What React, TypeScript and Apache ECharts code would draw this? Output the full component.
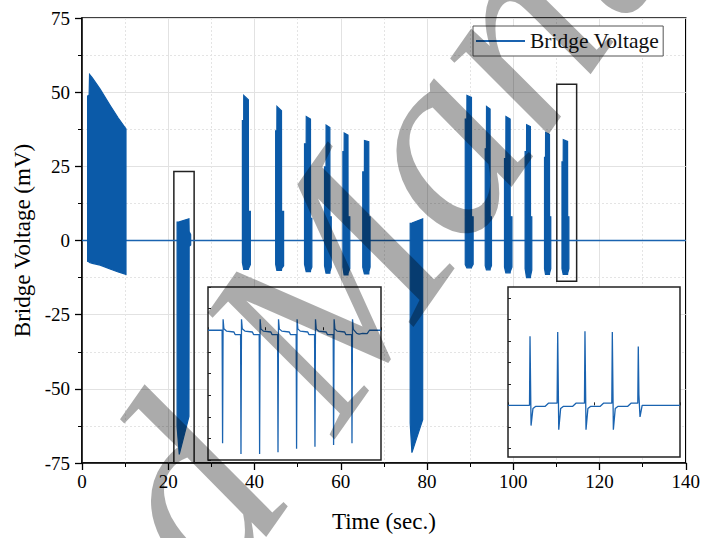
import React, { useEffect, useRef } from "react";
import * as echarts from "echarts";

// ---------- data ----------
const X_TICKS = { min: 0, max: 140, interval: 20 };
const Y_TICKS = { min: -75, max: 75, interval: 25 };
const SERIES_NAME = "Bridge Voltage";
const X_TITLE = "Time (sec.)";
const Y_TITLE = "Bridge Voltage (mV)";

// baseline of the signal (mV) between excitation bursts
const baseline: number[][] = [
  [0, 0],
  [140, 0],
];

// burst envelopes: [time (s), upper envelope (mV), lower envelope (mV)]
const burst1 = [[1.3, 48.7, -7], [1.65, 49, -7.2], [1.75, 56, -7.4], [2.4, 54.8, -7.7], [4.2, 51, -8.3], [6.5, 45.6, -9.6], [8.4, 41.3, -10.6], [10.2, 37.6, -11.4]];
const burst2 = [[22.05, 6.2, -62.6], [22.55, 6.3, -72.1], [24.8, 7.3, -59.3], [24.85, 3, -2], [25.2, 2, -1.5]];
const burst3 = [[37.19, 40.4, -7.5], [37.49, 40.4, -9.7], [37.5, 48.9, -9.7], [38.58, 47.4, -9.7], [38.6, 9.8, -9.5], [39.04, 9.8, -8.1]];
const burst4 = [[44.9, 37, -8], [45.18, 37, -10.1], [45.2, 45.2, -10.1], [46.26, 43.7, -10.1], [46.28, 9.8, -9.5], [46.75, 9.8, -8.5]];
const burst5 = [[51.6, 32.6, -8], [51.98, 32.6, -10.5], [52.0, 41.8, -10.5], [52.98, 40.9, -10.5], [53.0, 7.5, -10], [53.3, 7.5, -9]];
const burst6 = [[56.24, 24.8, -8.5], [56.58, 24.8, -11], [56.6, 38.9, -11], [57.48, 38.1, -11], [57.5, 8, -10.5], [57.8, 8, -9]];
const burst7 = [[60.5, 30, -9], [60.78, 30, -11.6], [60.8, 36.2, -11.6], [61.68, 35.5, -11.6], [61.7, 8, -11], [62.1, 8, -9.5]];
const burst8 = [[65.1, 23.1, -9], [65.48, 23.1, -11.3], [65.5, 33.7, -11.3], [66.5, 33.3, -11.3], [66.52, 8, -10.5], [66.8, 8, -9]];
const burst9 = [[76.1, 5.8, -61.5], [76.5, 5.9, -71.5], [79.0, 7.3, -60.4]];
const burst10 = [[88.87, 40.9, -8.1], [89.24, 40.9, -9.2], [89.26, 48.9, -9.2], [90.31, 48.2, -9.2], [90.33, 8, -9], [90.7, 8, -8]];
const burst11 = [[93.5, 30.9, -8.5], [93.78, 30.9, -9.9], [93.8, 45.2, -9.9], [94.63, 44.3, -9.9], [94.65, 8, -9.5], [94.95, 8, -8.5]];
const burst12 = [[97.97, 27.6, -9], [98.28, 27.6, -10.9], [98.3, 41.8, -10.9], [99.28, 40.9, -10.9], [99.3, 8, -10.5], [99.7, 8, -9]];
const burst13 = [[102.75, 30, -9.5], [103.08, 30, -12.5], [103.1, 39, -12.5], [103.98, 38.4, -12.5], [104.0, 8, -12], [104.3, 8, -10]];
const burst14 = [[107.25, 28, -9.5], [107.48, 28, -11.4], [107.5, 36.4, -11.4], [108.4, 35.8, -11.4], [108.42, 8, -11], [108.7, 8, -9.5]];
const burst15 = [[111.3, 26.5, -9.5], [111.58, 26.5, -11.4], [111.6, 34, -11.4], [112.6, 33.4, -11.4], [112.62, 8, -11], [112.9, 8, -9.5]];
const BURSTS = [burst1, burst2, burst3, burst4, burst5, burst6, burst7, burst8, burst9, burst10, burst11, burst12, burst13, burst14, burst15];

// highlighted (zoomed) windows: [t start, t end, top mV, bottom mV]
const zoomBox1 = [21.3, 26.0, 23.3, -75];
const zoomBox2 = [110.1, 114.7, 52.7, -13.7];

// left inset (zoom of burst 2): [time (a.u.), mV]
const inset1Axis = { xMin: 0, xMax: 3, xInterval: 1, yMin: -75, yMax: 25, yInterval: 12.5 };
const inset1Signal: number[][] = [
  [0, 0], [0.245, 0], [0.253, -65.3], [0.262, 6.3], [0.275, 0.8], [0.32, -0.5], [0.45, -1], [0.47, -2.5], [0.565, -2.5],
  [0.572, -71.5], [0.581, 6.3], [0.594, 0.8], [0.64, -0.5], [0.77, -1], [0.79, -2.5], [0.888, -2.5],
  [0.895, -71.5], [0.904, 6.3], [0.917, 0.8], [0.96, -0.5], [1.09, -1], [1.11, -2.5], [1.207, -2.5],
  [1.214, -70.5], [1.223, 6.3], [1.236, 0.8], [1.28, -0.5], [1.41, -1], [1.43, -2.5], [1.529, -2.5],
  [1.536, -68.5], [1.545, 6.3], [1.558, 0.8], [1.6, -0.5], [1.73, -1], [1.75, -2.5], [1.848, -2.5],
  [1.855, -67.3], [1.864, 6.3], [1.877, 0.8], [1.92, -0.5], [2.05, -1], [2.07, -2.5], [2.171, -2.5],
  [2.178, -66.3], [2.187, 6.3], [2.2, 0.8], [2.24, -0.5], [2.37, -1], [2.39, -2.5], [2.49, -2.5],
  [2.497, -65.3], [2.506, 6.3], [2.52, 0.5], [2.58, -1.8], [2.62, -2.2], [2.68, -1.8], [2.76, -2], [2.8, 0], [3, 0],
];

// right inset (zoom of burst 15): [time (a.u.), mV]
const inset2Axis = { xMin: 0, xMax: 2, xInterval: 1, yMin: -24, yMax: 55 };
const inset2Ticks = [-20, -10, 0, 10, 20, 30, 40, 50];
const inset2Signal: number[][] = [
  [0, 0], [0.25, 0], [0.256, 32.1], [0.268, -9.4], [0.29, -1.5], [0.32, -0.5], [0.43, -0.5], [0.47, 1], [0.571, 1],
  [0.578, 34.1], [0.59, -11.3], [0.612, -1.5], [0.642, -0.5], [0.75, -0.5], [0.79, 1], [0.889, 1],
  [0.895, 34.4], [0.907, -11.3], [0.929, -1.5], [0.959, -0.5], [1.07, -0.5], [1.11, 1], [1.207, 1],
  [1.213, 34.1], [1.225, -11.3], [1.247, -1.5], [1.277, -0.5], [1.39, -0.5], [1.43, 1], [1.509, 1],
  [1.515, 27.4], [1.522, 5], [1.535, -5.4], [1.56, 0], [2, 0],
];

// watermark text
const WATERMARK_A = "Accepted ";
const WATERMARK_B = "Manuscript";

// ---------- styles ----------
const BLUE = "#0b5aa8";
const LINE_BLUE = "#1a63b0";
const FONT = "Liberation Serif, serif";

export default function App() {
  const ref = useRef<HTMLDivElement>(null);

  useEffect(() => {
    document.body.style.margin = "0";
    if (!ref.current) return;
    const chart = echarts.init(ref.current, undefined, { renderer: "svg" });

    const mainAxisCommon = {
      axisLine: { show: true, onZero: false, lineStyle: { color: "#000", width: 1.5 } },
      axisTick: { show: true, inside: false, length: 7, lineStyle: { color: "#000", width: 1.3 } },
      minorTick: { show: true, splitNumber: 2, length: 4, lineStyle: { color: "#000", width: 1 } },
      splitLine: { show: true, lineStyle: { color: "#e2e2e2", width: 1 } },
      minorSplitLine: { show: true, lineStyle: { color: "#e4e4e4", width: 1, type: [2, 2] } },
      axisLabel: { color: "#000", fontFamily: FONT, fontSize: 19 },
      nameTextStyle: { color: "#000", fontFamily: FONT, fontSize: 23 },
      nameLocation: "middle",
      z: 0,
    };

    const insetX = (gridIndex: number, a: any) => ({
      type: "value",
      gridIndex,
      min: a.xMin,
      max: a.xMax,
      interval: a.xInterval,
      axisLine: { show: false },
      axisTick: { show: true, inside: true, length: 3, lineStyle: { color: "#222", width: 1 } },
      axisLabel: { show: false },
      splitLine: { show: false },
      z: 6,
    });

    const wmStyle = { fontSize: 270, fontStyle: "italic", fontFamily: FONT, fill: "rgba(0,0,0,0.33)", verticalAlign: "bottom" };
    const wmPos = { x: 372, y: 462, rotation: (55 * Math.PI) / 180, z: 100, silent: true };

    const option: any = {
      animation: false,
      backgroundColor: "#fff",
      textStyle: { fontFamily: FONT },
      grid: [
        { left: 82, top: 18, width: 605, height: 449, show: true, borderColor: "#000", borderWidth: 1.5, backgroundColor: "transparent", z: 0 },
        { left: 208, top: 287, width: 173, height: 173, show: true, borderColor: "#222", borderWidth: 1.5, backgroundColor: "#fff", z: 5 },
        { left: 508, top: 287, width: 172, height: 170, show: true, borderColor: "#222", borderWidth: 1.5, backgroundColor: "#fff", z: 5 },
      ],
      legend: {
        left: 473,
        top: 26,
        padding: [4, 4, 4, 3],
        borderColor: "#555",
        borderWidth: 1,
        borderRadius: 0,
        backgroundColor: "#fff",
        icon: "rect",
        itemWidth: 49,
        itemHeight: 2,
        itemGap: 0,
        data: [SERIES_NAME],
        textStyle: { color: "#111", fontFamily: FONT, fontSize: 21.5 },
        z: 8,
      },
      xAxis: [
        {
          type: "value",
          gridIndex: 0,
          min: X_TICKS.min,
          max: X_TICKS.max,
          interval: X_TICKS.interval,
          name: X_TITLE,
          nameGap: 47,
          ...mainAxisCommon,
          axisLabel: { ...mainAxisCommon.axisLabel, margin: 9 },
        },
        insetX(1, inset1Axis),
        insetX(2, inset2Axis),
      ],
      yAxis: [
        {
          type: "value",
          gridIndex: 0,
          min: Y_TICKS.min,
          max: Y_TICKS.max,
          interval: Y_TICKS.interval,
          name: Y_TITLE,
          nameGap: 35,
          nameRotate: 90,
          ...mainAxisCommon,
          axisLabel: { ...mainAxisCommon.axisLabel, margin: 12 },
        },
        {
          type: "value",
          gridIndex: 1,
          min: inset1Axis.yMin,
          max: inset1Axis.yMax,
          interval: inset1Axis.yInterval,
          axisLine: { show: false },
          axisTick: { show: true, inside: true, length: 3, lineStyle: { color: "#222", width: 1 } },
          axisLabel: { show: false },
          splitLine: { show: false },
          z: 6,
        },
        {
          type: "value",
          gridIndex: 2,
          min: inset2Axis.yMin,
          max: inset2Axis.yMax,
          axisLine: { show: false },
          axisTick: { show: true, inside: true, length: 3, customValues: inset2Ticks, lineStyle: { color: "#222", width: 1 } },
          axisLabel: { show: false, customValues: inset2Ticks },
          splitLine: { show: false },
          z: 6,
        },
      ],
      series: [
        {
          name: SERIES_NAME,
          type: "line",
          xAxisIndex: 0,
          yAxisIndex: 0,
          data: baseline,
          symbol: "none",
          lineStyle: { color: LINE_BLUE, width: 1.5 },
          itemStyle: { color: LINE_BLUE },
          z: 2,
          markArea: {
            silent: true,
            itemStyle: { color: "rgba(0,0,0,0)", borderColor: "#222", borderWidth: 1.5 },
            label: { show: false },
            data: [
              [{ coord: [zoomBox1[0], zoomBox1[2]] }, { coord: [zoomBox1[1], zoomBox1[3]] }],
              [{ coord: [zoomBox2[0], zoomBox2[2]] }, { coord: [zoomBox2[1], zoomBox2[3]] }],
            ],
          },
        },
        {
          name: "bursts",
          type: "custom",
          xAxisIndex: 0,
          yAxisIndex: 0,
          data: BURSTS.map((b) => [b[0][0], b[0][1]]),
          z: 3,
          renderItem: (params: any, api: any) => {
            const b = BURSTS[params.dataIndex];
            const upper = b.map((p) => api.coord([p[0], p[1]]));
            const lower = b.slice().reverse().map((p) => api.coord([p[0], p[2]]));
            return {
              type: "polygon",
              shape: { points: upper.concat(lower) },
              style: { fill: BLUE, stroke: BLUE, lineWidth: 1.2 },
            };
          },
        },
        {
          name: "inset1",
          type: "line",
          xAxisIndex: 1,
          yAxisIndex: 1,
          data: inset1Signal,
          symbol: "none",
          lineStyle: { color: LINE_BLUE, width: 1.3 },
          z: 7,
        },
        {
          name: "inset2",
          type: "line",
          xAxisIndex: 2,
          yAxisIndex: 2,
          data: inset2Signal,
          symbol: "none",
          lineStyle: { color: LINE_BLUE, width: 1.3 },
          z: 7,
        },
      ],
      graphic: [
        { type: "text", ...wmPos, style: { ...wmStyle, text: WATERMARK_B, align: "left" } },
        { type: "text", ...wmPos, style: { ...wmStyle, text: WATERMARK_A, align: "right" } },
      ],
    };

    chart.setOption(option);
    return () => chart.dispose();
  }, []);

  return <div ref={ref} style={{ width: 703, height: 538 }} />;
}
